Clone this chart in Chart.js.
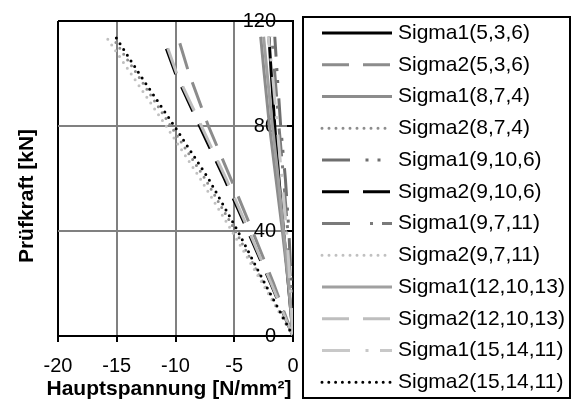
<!DOCTYPE html>
<html><head><meta charset="utf-8">
<script src="https://cdn.jsdelivr.net/npm/chart.js@4.4.1/dist/chart.umd.min.js"></script>
<style>html,body{margin:0;padding:0;background:#fff;}canvas{display:block;}</style>
</head><body>
<canvas id="c" width="571" height="403"></canvas>
<script>
// ---- data ----
const loads = [0, 20, 40, 60, 80, 100, 114];
const xTicks = [-20, -15, -10, -5, 0];
const yTicks = [0, 40, 80, 120];
const seriesNames = [
  'Sigma1(5,3,6)', 'Sigma2(5,3,6)', 'Sigma1(8,7,4)', 'Sigma2(8,7,4)',
  'Sigma1(9,10,6)', 'Sigma2(9,10,6)', 'Sigma1(9,7,11)', 'Sigma2(9,7,11)',
  'Sigma1(12,10,13)', 'Sigma2(12,10,13)', 'Sigma1(15,14,11)', 'Sigma2(15,14,11)'
];
const sigma1_5_3_6   = [0, -0.4, -0.8, -1.2, -1.55, -1.85, -2.05];
const sigma2_5_3_6   = [0, -1.65, -3.45, -5.3, -7.2, -8.85, -9.8];
const sigma1_8_7_4   = [0, -0.4, -0.9, -1.45, -2.0, -2.45, -2.75];
const sigma2_8_7_4   = [0, -2.5, -4.9, -7.5, -10.4, -13.3, -15.4];
const sigma1_9_10_6  = [0, -0.15, -0.35, -0.65, -1.05, -1.35, -1.55];
const sigma2_9_10_6  = [0, -1.9, -3.85, -5.85, -7.95, -10.0, -11.15];
const sigma1_9_7_11  = [0, -0.2, -0.45, -0.8, -1.2, -1.55, -1.8];
const sigma2_9_7_11  = [0, -2.6, -5.2, -7.9, -10.8, -13.8, -15.9];
const sigma1_12_10_13 = [0, -0.35, -0.8, -1.25, -1.75, -2.2, -2.5];
const sigma2_12_10_13 = [0, -1.85, -3.75, -5.7, -7.8, -9.9, -11.0];
const sigma1_15_14_11 = [0, -0.25, -0.55, -0.95, -1.35, -1.75, -2.1];
const sigma2_15_14_11 = [0, -2.4, -4.7, -7.2, -10.1, -13.1, -15.1];
const seriesValues = [
  sigma1_5_3_6, sigma2_5_3_6, sigma1_8_7_4, sigma2_8_7_4,
  sigma1_9_10_6, sigma2_9_10_6, sigma1_9_7_11, sigma2_9_7_11,
  sigma1_12_10_13, sigma2_12_10_13, sigma1_15_14_11, sigma2_15_14_11
];
const xTitle = 'Hauptspannung [N/mm²]';
const yTitle = 'Prüfkraft [kN]';

// ---- styles ----
const styles = [
  {c: '#000000', w: 3, d: [], cap: 'butt'},
  {c: '#8c8c8c', w: 3, d: [27, 14], cap: 'butt'},
  {c: '#8c8c8c', w: 3, d: [], cap: 'butt'},
  {c: '#8c8c8c', w: 3, d: [0, 7], cap: 'round'},
  {c: '#6e6e6e', w: 3, d: [28, 15.5, 3, 9, 3, 11.5], cap: 'butt'},
  {c: '#000000', w: 3, d: [27, 14], cap: 'butt'},
  {c: '#7a7a7a', w: 3, d: [28, 20, 3, 9], cap: 'butt'},
  {c: '#c0c0c0', w: 3, d: [0, 7], cap: 'round'},
  {c: '#a0a0a0', w: 3, d: [], cap: 'butt'},
  {c: '#bebebe', w: 3, d: [27, 14], cap: 'butt'},
  {c: '#c8c8c8', w: 3, d: [28, 15.5, 3, 11.5], cap: 'butt'},
  {c: '#000000', w: 3, d: [0, 6.8], cap: 'round'}
];
const FONT = '"Liberation Sans", Arial, sans-serif';

const datasets = seriesNames.map((name, i) => ({
  label: name,
  data: loads.map((l, k) => ({x: seriesValues[i][k], y: l})),
  showLine: true,
  borderColor: styles[i].c,
  backgroundColor: styles[i].c,
  borderWidth: styles[i].w,
  borderDash: styles[i].d,
  borderCapStyle: styles[i].cap,
  pointRadius: 0,
  tension: 0,
  order: seriesNames.length - i
}));

const extras = {
  id: 'extras',
  beforeDraw(chart) {
    const ctx = chart.ctx;
    ctx.save(); ctx.fillStyle = '#fff'; ctx.fillRect(0, 0, chart.width, chart.height); ctx.restore();
  },
  beforeDatasetsDraw(chart) {
    // inward tick marks on the right value axis
    const ctx = chart.ctx, ys = chart.scales.y, a = chart.chartArea;
    ctx.save();
    ctx.strokeStyle = '#000'; ctx.lineWidth = 2; ctx.setLineDash([]);
    ys.ticks.forEach(t => {
      const py = ys.getPixelForValue(t.value);
      ctx.beginPath(); ctx.moveTo(a.right - 6, py); ctx.lineTo(a.right, py); ctx.stroke();
    });
    ctx.restore();
  },
  afterDraw(chart) {
    const ctx = chart.ctx;
    ctx.save();
    // axis titles
    ctx.fillStyle = '#000';
    ctx.font = 'bold 21px ' + FONT;
    ctx.textAlign = 'center'; ctx.textBaseline = 'middle';
    ctx.fillText(xTitle, 169, 389);
    ctx.save(); ctx.translate(27, 196); ctx.rotate(-Math.PI / 2);
    ctx.fillText(yTitle, 0, 0); ctx.restore();
    // legend
    ctx.strokeStyle = '#000'; ctx.lineWidth = 2; ctx.setLineDash([]);
    ctx.strokeRect(303, 17, 267, 381);
    chart.data.datasets.forEach((ds, i) => {
      const y = 33 + i * 31.75;
      ctx.save();
      ctx.strokeStyle = ds.borderColor; ctx.lineWidth = ds.borderWidth;
      ctx.setLineDash(ds.borderDash); ctx.lineCap = ds.borderCapStyle;
      ctx.beginPath(); ctx.moveTo(322, y); ctx.lineTo(392, y); ctx.stroke();
      ctx.restore();
      ctx.fillStyle = '#000'; ctx.font = '21px ' + FONT;
      ctx.textAlign = 'left'; ctx.textBaseline = 'middle';
      ctx.fillText(ds.label, 398, y);
    });
    ctx.restore();
  }
};

new Chart(document.getElementById('c'), {
  type: 'scatter',
  data: {datasets},
  plugins: [extras],
  options: {
    responsive: false,
    animation: false,
    devicePixelRatio: 1,
    layout: {padding: {left: 58, right: 272, top: 21, bottom: 20}},
    plugins: {legend: {display: false}, tooltip: {enabled: false}},
    scales: {
      x: {
        type: 'linear', position: 'bottom', min: -20, max: 0,
        afterBuildTicks: s => { s.ticks = xTicks.map(v => ({value: v})); },
        afterFit: s => { s.height = 47; s.paddingLeft = 0; s.paddingRight = 0; },
        ticks: {font: {family: FONT, size: 20}, color: '#000', padding: 12},
        grid: {
          color: c => (c.tick && (c.tick.value === -20 || c.tick.value === 0)) ? '#000' : '#808080',
          lineWidth: 2, tickColor: '#000', tickLength: 6, tickWidth: 2
        },
        border: {display: true, color: '#000', width: 2}
      },
      y: {
        type: 'linear', position: 'right', min: 0, max: 120,
        afterBuildTicks: s => { s.ticks = yTicks.map(v => ({value: v})); },
        afterFit: s => { s.width = 6; s.paddingTop = 0; s.paddingBottom = 0; },
        ticks: {font: {family: FONT, size: 20}, color: '#000', mirror: true, padding: -17},
        grid: {
          color: c => (c.tick && (c.tick.value === 0 || c.tick.value === 120)) ? '#000' : '#808080',
          lineWidth: 2, drawTicks: false
        },
        border: {display: true, color: '#000', width: 2}
      }
    }
  }
});
</script>
</body></html>
